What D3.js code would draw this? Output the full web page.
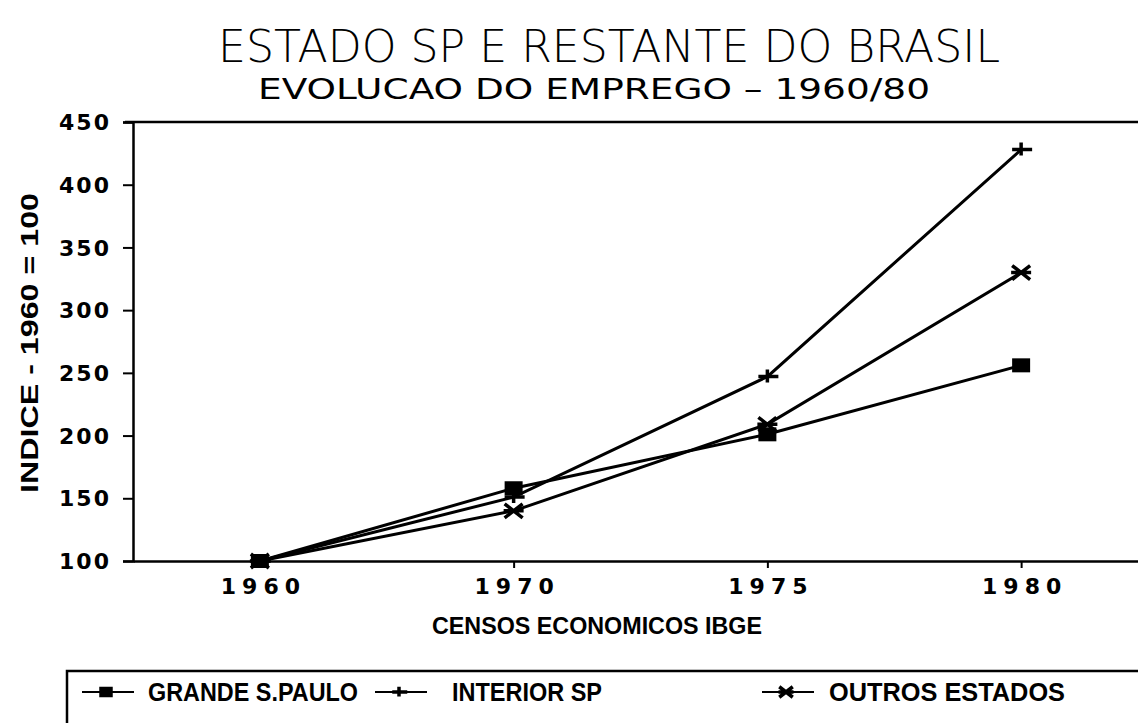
<!DOCTYPE html>
<html>
<head>
<meta charset="utf-8">
<script src="https://cdn.jsdelivr.net/npm/d3@7"></script>
<style>
  body { margin: 0; background: #fff; }
  svg { display: block; background: #fff; }
  text { fill: #000; }
</style>
</head>
<body>
<svg></svg>
<script>
// dados (indice 1960 = 100)
const anos = ["1960", "1970", "1975", "1980"];
const grandeSP = [100, 158, 201, 256];
const interiorSP = [100, 151, 247, 428];
const outrosEstados = [100, 140, 209, 330];
const yTicks = [100, 150, 200, 250, 300, 350, 400, 450];
const nomes = ["GRANDE S.PAULO", "INTERIOR SP", "OUTROS ESTADOS"];

const width = 1138;
const height = 723;
const margin = { top: 122, right: -10, bottom: 162, left: 133 };

const svg = d3.select("svg").attr("width", width).attr("height", height);

const x = d3
  .scalePoint()
  .domain(anos)
  .range([margin.left, width + 10])
  .padding(0.5);

const y = d3
  .scaleLinear()
  .domain([100, 450])
  .range([height - margin.bottom, margin.top]);

const series = [
  { nome: nomes[0], valores: grandeSP, marca: "quad" },
  { nome: nomes[1], valores: interiorSP, marca: "mais" },
  { nome: nomes[2], valores: outrosEstados, marca: "ast" }
];

// desenho das marcas
function marca(g, tipo, k) {
  k = k || 1;
  if (tipo === "quad") {
    g.append("rect").attr("x", -9 * k).attr("y", -7 * k).attr("width", 18 * k).attr("height", 14 * k)
      .attr("fill", "#000");
  } else if (tipo === "mais") {
    g.append("path").attr("d", `M${-9 * k},0H${11 * k}M0,${-7 * k}V${6 * k}`)
      .attr("stroke", "#000").attr("stroke-width", 3.5).attr("fill", "none");
  } else {
    g.append("path").attr("d", `M${-9 * k},${-7 * k}L${9 * k},${7 * k}M${-9 * k},${7 * k}L${9 * k},${-7 * k}M${-10 * k},0H${10 * k}`)
      .attr("stroke", "#000").attr("stroke-width", 3.5).attr("fill", "none");
  }
}

// titulos
svg.append("text")
  .attr("x", 609).attr("y", 62)
  .attr("text-anchor", "middle")
  .attr("textLength", 782).attr("lengthAdjust", "spacingAndGlyphs")
  .style("font-family", "'DejaVu Sans', sans-serif")
  .style("font-weight", 300)
  .style("font-size", "44px")
  .text("ESTADO SP E RESTANTE DO BRASIL");

svg.append("text")
  .attr("x", 594).attr("y", 99)
  .attr("text-anchor", "middle")
  .attr("textLength", 672).attr("lengthAdjust", "spacingAndGlyphs")
  .style("font-family", "'DejaVu Sans', sans-serif")
  .style("font-weight", "normal")
  .style("font-size", "29px")
  .text("EVOLUCAO DO EMPREGO \u2013 1960/80");

// borda de cima
svg.append("line")
  .attr("x1", margin.left - 8).attr("x2", width)
  .attr("y1", margin.top).attr("y2", margin.top)
  .attr("stroke", "#000").attr("stroke-width", 2.5);

// eixo Y
const eixoY = svg.append("g")
  .attr("transform", `translate(${margin.left},0)`)
  .call(d3.axisLeft(y).tickValues(yTicks).tickSize(10).tickPadding(12));
eixoY.select(".domain").attr("stroke-width", 2.5);
eixoY.selectAll(".tick line").attr("stroke-width", 2);
eixoY.selectAll(".tick text")
  .style("font-family", "'DejaVu Sans', sans-serif")
  .style("font-weight", "bold")
  .style("font-size", "22px")
  .style("letter-spacing", "2px")
  .attr("dy", "0.35em");

// eixo X
const eixoX = svg.append("g")
  .attr("transform", `translate(0,${height - margin.bottom})`)
  .call(d3.axisBottom(x).tickSize(7).tickSizeOuter(0).tickPadding(10));
eixoX.select(".domain").attr("stroke-width", 2.5);
eixoX.selectAll(".tick line").attr("stroke-width", 2);
eixoX.selectAll(".tick text")
  .style("font-family", "'DejaVu Sans', sans-serif")
  .style("font-weight", "bold")
  .style("font-size", "22px")
  .style("letter-spacing", "6px")
  .attr("dx", "3px");

// rotulos dos eixos
svg.append("text")
  .attr("transform", "rotate(-90)")
  .attr("x", -343).attr("y", 38)
  .attr("text-anchor", "middle")
  .attr("textLength", 300).attr("lengthAdjust", "spacingAndGlyphs")
  .style("font-family", "'Liberation Sans Narrow', 'Liberation Sans', sans-serif")
  .style("font-weight", "bold")
  .style("font-size", "24px")
  .text("INDICE - 1960 = 100");

svg.append("text")
  .attr("x", 597).attr("y", 634)
  .attr("text-anchor", "middle")
  .attr("textLength", 330).attr("lengthAdjust", "spacingAndGlyphs")
  .style("font-family", "'Liberation Sans Narrow', 'Liberation Sans', sans-serif")
  .style("font-weight", "bold")
  .style("font-size", "23px")
  .text("CENSOS ECONOMICOS IBGE");

// linhas
const linha = d3.line()
  .x((d, i) => x(anos[i]))
  .y((d) => y(d));

series.forEach(function (s) {
  svg.append("path")
    .datum(s.valores)
    .attr("fill", "none")
    .attr("stroke", "#000")
    .attr("stroke-width", 3)
    .attr("d", linha);

  s.valores.forEach(function (v, i) {
    const g = svg.append("g").attr("transform", `translate(${x(anos[i])},${y(v)})`);
    marca(g, s.marca, 1);
  });
});

// legenda
const leg = svg.append("g");
leg.append("path")
  .attr("d", `M67,${height + 5}V671H${width}`)
  .attr("fill", "none").attr("stroke", "#000").attr("stroke-width", 2.5);

const legX = [82, 375, 762];
const legTxt = [{ x: 148, w: 210 }, { x: 452, w: 150 }, { x: 829, w: 236 }];
series.forEach(function (s, i) {
  leg.append("line")
    .attr("x1", legX[i]).attr("x2", legX[i] + 52)
    .attr("y1", 692).attr("y2", 692)
    .attr("stroke", "#000").attr("stroke-width", 2);
  const g = leg.append("g").attr("transform", `translate(${legX[i] + 24},692)`);
  marca(g, s.marca, 0.75);
  leg.append("text")
    .attr("x", legTxt[i].x).attr("y", 701)
    .attr("textLength", legTxt[i].w).attr("lengthAdjust", "spacingAndGlyphs")
    .style("font-family", "'Liberation Sans Narrow', 'Liberation Sans', sans-serif")
    .style("font-weight", "bold")
    .style("font-size", "25px")
    .text(s.nome);
});
</script>
</body>
</html>
